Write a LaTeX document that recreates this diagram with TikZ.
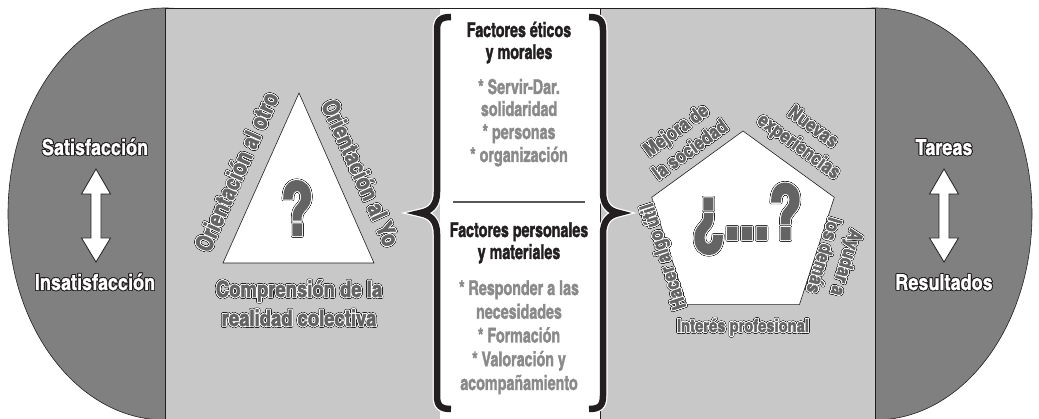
\documentclass[tikz,border=0pt]{standalone}
\usepackage{fontspec}
\usepackage[copies]{contour}
\usetikzlibrary{shapes.geometric}
\newfontfamily\cnf{texgyreheroscn-bold.otf}[FakeBold=2.4]
\newfontfamily\cnfw{texgyreheroscn-bold.otf}[FakeBold=0.8]
\newfontfamily\cnfn{texgyreheroscn-bold.otf}[FakeStretch=0.85, FakeBold=1.5]
\newfontfamily\cnfq{texgyreheroscn-bold.otf}[FakeStretch=0.85, FakeBold=3]
\definecolor{ink}{RGB}{35,31,32}
\definecolor{darkfill}{RGB}{128,128,128}
\definecolor{lightfill}{RGB}{200,200,200}
\definecolor{txtgray}{RGB}{100,100,100}
\definecolor{itemgray}{RGB}{138,138,138}
\contournumber{24}
\newcommand\wout[1]{{\contourlength{0.8pt}\contour{ink}{\textcolor{white}{#1}}}}
\newcommand\tout[1]{{\rlap{\contourlength{1.35pt}\contour{ink}{\textcolor{ink}{#1}}}\contourlength{0.7pt}\contour{white}{\textcolor{txtgray}{#1}}}}
\begin{document}
\begin{tikzpicture}[x=1pt,y=-1pt,
  side/.style={font=\cnfw\fontsize{22}{26}\selectfont, inner sep=0pt, anchor=base},
  lab/.style={font=\cnf\fontsize{23.5}{26}\selectfont, inner sep=0pt},
  comp/.style={font=\cnf\fontsize{22.5}{26}\selectfont, inner sep=0pt, anchor=base},
  plab/.style={font=\cnf\fontsize{19.5}{24}\selectfont, inner sep=0pt, align=center},
  head/.style={font=\cnfn\fontsize{20.5}{24}\selectfont, text=ink, inner sep=0pt, anchor=base},
  item/.style={font=\cnfn\fontsize{20.5}{24}\selectfont, text=itemgray, inner sep=0pt, anchor=base},
  outl/.style={draw=ink, line width=0.6pt},
  bracehalo/.style={draw=white, line width=9pt},
  braceink/.style={draw=ink, line width=6.5pt},
  dblarrow/.style={fill=white, draw=ink, line width=0.8pt, line join=miter}]
\useasboundingbox (0,0) rectangle (1039,419);
\begin{scope}
\clip (0,0) rectangle (1039,419);
\filldraw[fill=darkfill, outl] (165,214) ellipse [x radius=157, y radius=206];
\filldraw[fill=darkfill, outl] (875,214) ellipse [x radius=157, y radius=206];
\filldraw[fill=lightfill, outl] (165,8) rectangle (440,430);
\fill[white] (440,8) rectangle (600,430);
\draw[outl] (440,8) -- (600,8);
\filldraw[fill=lightfill, outl] (600,8) rectangle (875,430);
\end{scope}

% left side
\node[side] (sat) at (95,155) {\wout{Satisfacción}};
\node[side] (insat) at (95,290) {\wout{Insatisfacción}};
\filldraw[dblarrow] (96,169) -- (110.5,194) -- (101,194) -- (101,238) -- (110.5,238) -- (96,262) -- (81.5,238) -- (91,238) -- (91,194) -- (81.5,194) -- cycle;
% right side
\node[side] (tar) at (944,155) {\wout{Tareas}};
\node[side] (res) at (944,290) {\wout{Resultados}};
\begin{scope}[shift={(848,0)}]
\filldraw[dblarrow] (96,169) -- (110.5,194) -- (101,194) -- (101,238) -- (110.5,238) -- (96,262) -- (81.5,238) -- (91,238) -- (91,194) -- (81.5,194) -- cycle;
\end{scope}

% triangle
\coordinate (tA) at (299,93);
\coordinate (tB) at (223,263);
\coordinate (tC) at (374,263);
\filldraw[fill=white, outl] (tA) -- (tB) -- (tC) -- cycle;
\node[font=\cnfq\fontsize{74}{80}\selectfont, inner sep=0pt, anchor=base] (q1) at (297,235) {\tout{?}};
\node[lab, rotate=66] (oo) at (237,172) {\tout{Orientación al otro}};
\node[lab, rotate=-66] (oy) at (360,173) {\tout{Orientación al Yo}};
\node[comp] (comp1) at (299,297) {\tout{Comprensión de la}};
\node[comp] (comp2) at (299,326) {\tout{realidad colectiva}};

% pentagon
\node[regular polygon, regular polygon sides=5, minimum size=192pt, inner sep=0pt, fill=white, outl] (pent) at (743,227) {};
\node[font=\cnfq\fontsize{76}{80}\selectfont, inner sep=0pt, anchor=base] (q2) at (747,239) {\tout{¿...?}};
\node[plab, rotate=36] (mej) at (683,140) {\tout{Mejora de}\\\tout{la sociedad}};
\node[plab, rotate=-36] (nue) at (805,138) {\tout{Nuevas}\\\tout{experiencias}};
\node[plab, rotate=-107] (ayu) at (835,259) {\tout{Ayudar a}\\\tout{los demás}};
\node[plab, rotate=108] (hac) at (665,256) {\tout{Hacer algo útil}};
\node[plab, anchor=base, font=\cnf\fontsize{18}{22}\selectfont] (int) at (743,332) {\tout{Interés profesional}};

% braces
\foreach \st in {bracehalo,braceink}{
\draw[\st] (451,17) .. controls (441,17) and (437,20) .. (437,30) -- (437,192) .. controls (437,205) and (431,211) .. (420,213) .. controls (431,215) and (437,221) .. (437,234) -- (437,396) .. controls (437,406) and (441,409) .. (451,409);
\draw[\st] (589,17) .. controls (599,17) and (603,20) .. (603,30) -- (603,192) .. controls (603,205) and (609,211) .. (619,213) .. controls (609,215) and (603,221) .. (603,234) -- (603,396) .. controls (603,406) and (599,409) .. (589,409);
}

% middle texts
\node[head] (m1) at (519,37) {Factores éticos};
\node[head] (m2) at (519,59) {y morales};
\node[item] (m3) at (519,94) {* Servir-Dar.};
\node[item] (m4) at (519,116) {solidaridad};
\node[item] (m5) at (519,139) {* personas};
\node[item] (m6) at (519,162) {* organización};
\coordinate (sepL) at (453,202);
\coordinate (sepR) at (585,202);
\draw[draw=ink!75, line width=1.3pt] (sepL) -- (sepR);
\node[head] (m7) at (519,237) {Factores personales};
\node[head] (m8) at (519,259) {y materiales};
\node[item] (m9) at (519,295) {* Responder a las};
\node[item] (m10) at (519,318.75) {necesidades};
\node[item] (m11) at (519,342.5) {* Formación};
\node[item] (m12) at (519,366.25) {* Valoración y};
\node[item] (m13) at (519,390) {acompañamiento};
\end{tikzpicture}
\end{document}
